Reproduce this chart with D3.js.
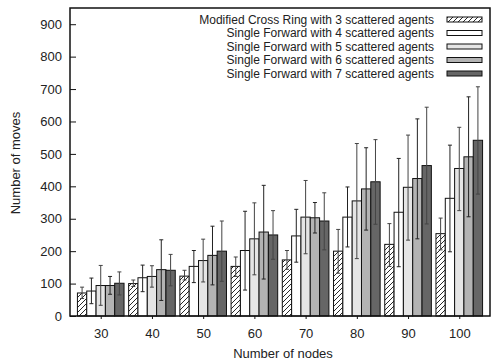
<!DOCTYPE html>
<html>
<head>
<meta charset="utf-8">
<script src="https://cdn.jsdelivr.net/npm/d3@7"></script>
<style>
	body { margin: 0; background: #fff; }
	svg { display: block; font-family: "Liberation Sans", Arial, sans-serif; }
</style>
</head>
<body>
<figure id="movesChart" style="margin:0"></figure>
<script>
// node counts on the x axis
const nodes = [30, 40, 50, 60, 70, 80, 90, 100];
const seriesNames = [
	"Modified Cross Ring with 3 scattered agents",
	"Single Forward with 4 scattered agents",
	"Single Forward with 5 scattered agents",
	"Single Forward with 6 scattered agents",
	"Single Forward with 7 scattered agents"
];
// mean number of moves, one array per series
const crossRing3 = [71, 100, 123, 153, 173, 200, 221, 254];
const forward4 = [77, 118, 153, 202, 247, 305, 320, 363];
const forward5 = [94, 122, 171, 238, 305, 355, 397, 455];
const forward6 = [94, 143, 187, 259, 303, 392, 424, 491];
const forward7 = [101, 141, 200, 250, 293, 414, 464, 542];
// error bar ends [low, high]
const crossRing3Err = [[54, 89], [91, 111], [111, 141], [122, 182], [144, 202], [132, 267], [153, 285], [204, 302]];
const forward4Err = [[38, 117], [75, 157], [103, 202], [80, 323], [166, 329], [213, 398], [152, 486], [198, 527]];
const forward5Err = [[33, 156], [89, 155], [105, 237], [127, 349], [192, 418], [177, 532], [234, 558], [325, 582]];
const forward6Err = [[67, 122], [48, 235], [96, 277], [114, 403], [256, 350], [265, 519], [238, 608], [306, 676]];
const forward7Err = [[65, 136], [93, 190], [107, 293], [175, 325], [204, 380], [283, 544], [284, 644], [376, 707]];
const yTicks = [0, 100, 200, 300, 400, 500, 600, 700, 800, 900];

const values = [crossRing3, forward4, forward5, forward6, forward7];
const errors = [crossRing3Err, forward4Err, forward5Err, forward6Err, forward7Err];
const fills = ["url(#hatch)", "#ffffff", "#e5e5e5", "#b3b3b3", "#666666"];

const W = 491, H = 364;
const margin = { top: 8, right: 1, bottom: 48, left: 70 };
const fontSize = 13;

const svg = d3.select("#movesChart").append("svg").attr("width", W).attr("height", H);

const defs = svg.append("defs");
const pat = defs.append("pattern").attr("id", "hatch").attr("patternUnits", "userSpaceOnUse")
	.attr("width", 5).attr("height", 5);
pat.append("rect").attr("width", 5).attr("height", 5).attr("fill", "#fff");
pat.append("path").attr("d", "M-1,1 l2,-2 M0,5 l5,-5 M4,6 l2,-2")
	.attr("stroke", "#111").attr("stroke-width", 0.9);

const x = d3.scaleLinear().domain([-0.6, 7.6]).range([margin.left, W - margin.right]);
const y = d3.scaleLinear().domain([0, 950]).range([H - margin.bottom, margin.top]);
const bw = x(0.182) - x(0);

// bars
values.forEach((vals, s) => {
	const g = svg.append("g");
	g.selectAll("rect").data(vals).enter().append("rect")
		.attr("x", (d, i) => x(i) + (s - 2.5) * bw)
		.attr("y", d => y(d))
		.attr("width", bw)
		.attr("height", d => y(0) - y(d))
		.attr("fill", fills[s])
		.attr("stroke", "#111")
		.attr("stroke-width", 1);
});

// error bars
errors.forEach((errs, s) => {
	const g = svg.append("g").attr("stroke", s % 2 ? "#222" : "#444").attr("stroke-width", 1);
	errs.forEach((e, i) => {
		const cx = x(i) + (s - 2) * bw;
		g.append("line").attr("x1", cx).attr("x2", cx).attr("y1", y(e[0])).attr("y2", y(e[1]));
		g.append("line").attr("x1", cx - 2).attr("x2", cx + 2).attr("y1", y(e[0])).attr("y2", y(e[0]));
		g.append("line").attr("x1", cx - 2).attr("x2", cx + 2).attr("y1", y(e[1])).attr("y2", y(e[1]));
	});
});

// frame
svg.append("rect")
	.attr("x", margin.left).attr("y", margin.top)
	.attr("width", W - margin.right - margin.left)
	.attr("height", H - margin.bottom - margin.top)
	.attr("fill", "none").attr("stroke", "#111").attr("stroke-width", 1.5);

// Y Axis
const yAxis = svg.append("g").attr("transform", "translate(" + margin.left + ",0)")
	.call(d3.axisLeft(y).tickValues(yTicks).tickSizeInner(-6).tickSizeOuter(0).tickPadding(8));
yAxis.select(".domain").remove();
yAxis.selectAll(".tick text").attr("font-size", fontSize).attr("fill", "#222").attr("font-family", "Liberation Sans, Arial, sans-serif");
yAxis.selectAll(".tick line").attr("stroke", "#111");

// X Axis
const xAxis = svg.append("g").attr("transform", "translate(0," + (H - margin.bottom) + ")")
	.call(d3.axisBottom(x).tickValues(d3.range(nodes.length)).tickFormat(i => nodes[i]).tickSizeInner(3).tickSizeOuter(0).tickPadding(10));
xAxis.select(".domain").remove();
xAxis.selectAll(".tick text").attr("font-size", fontSize).attr("fill", "#222").attr("font-family", "Liberation Sans, Arial, sans-serif");
xAxis.selectAll(".tick line").attr("stroke", "#111");

// axis titles
svg.append("text").attr("x", 283).attr("y", 358).attr("text-anchor", "middle")
	.attr("font-size", fontSize).attr("fill", "#222").text("Number of nodes");
svg.append("text").attr("transform", "translate(20,163) rotate(-90)").attr("text-anchor", "middle")
	.attr("font-size", fontSize).attr("fill", "#222").text("Number of moves");

// legend (tight line spacing like the original, slightly smaller type so rows don't collide)
const legend = svg.append("g");
seriesNames.forEach((name, s) => {
	const ly = 19.5 + s * 13.5;
	legend.append("text").attr("x", 434).attr("y", ly + 4.2).attr("text-anchor", "end")
		.attr("font-size", 12).attr("fill", "#222").text(name);
	legend.append("rect").attr("x", 447).attr("y", ly - 2.5).attr("width", 35).attr("height", 5)
		.attr("fill", fills[s]).attr("stroke", "#111").attr("stroke-width", 1);
});
</script>
</body>
</html>
